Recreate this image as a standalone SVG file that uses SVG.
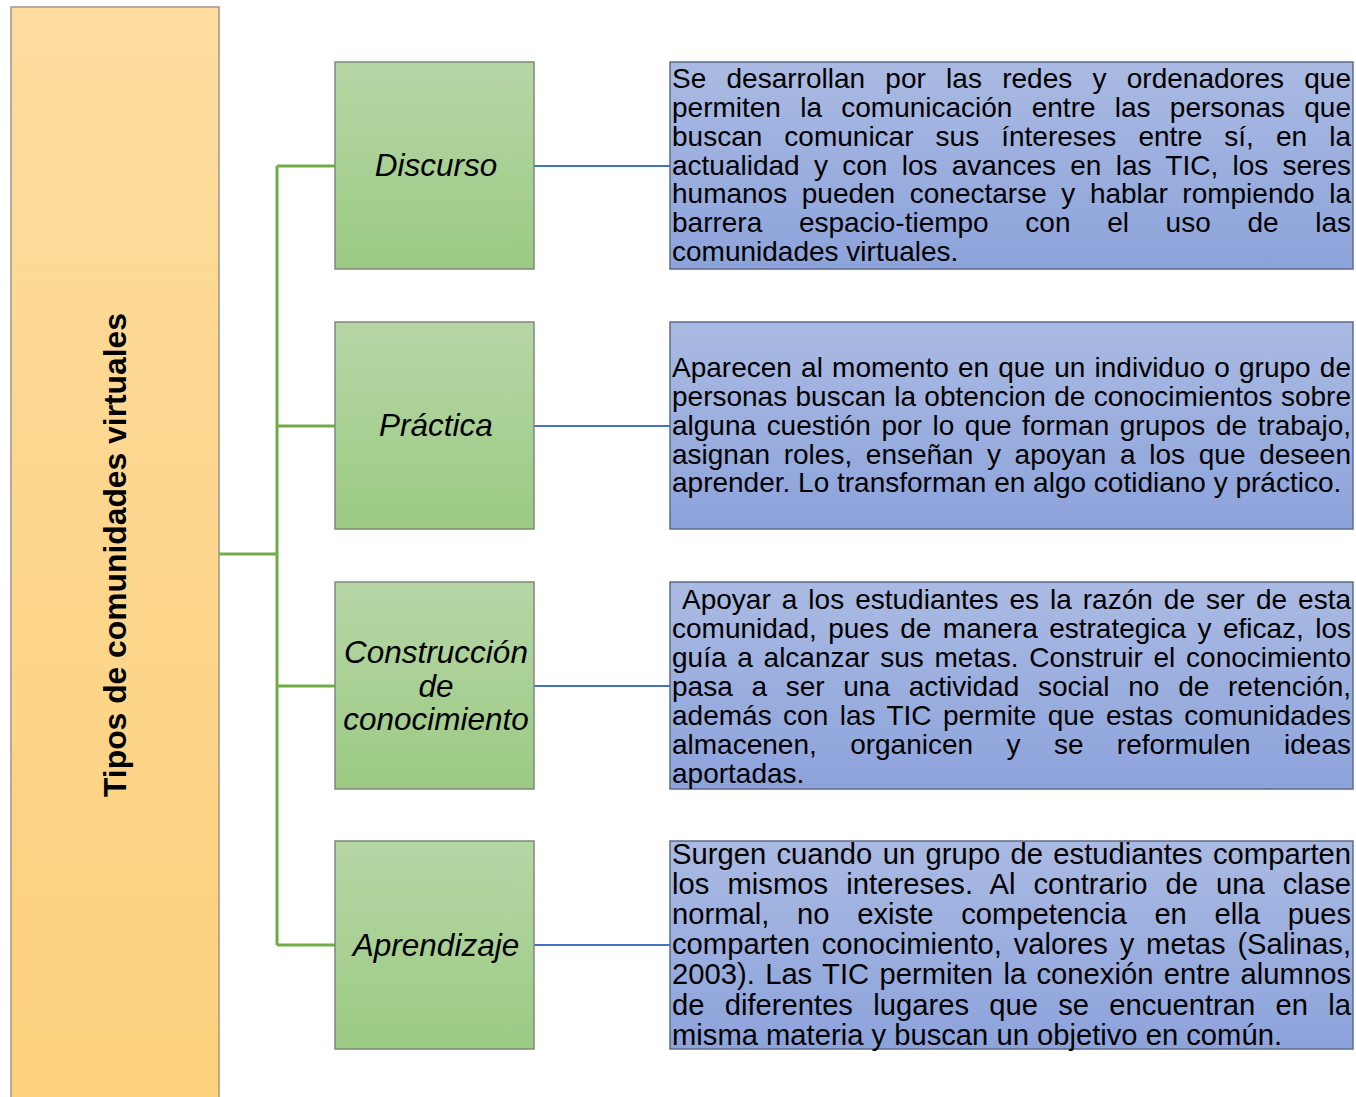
<svg xmlns="http://www.w3.org/2000/svg" width="1356" height="1097" viewBox="0 0 1356 1097">
<defs>
<linearGradient id="gOr" x1="0" y1="0" x2="0" y2="1"><stop offset="0" stop-color="#FDDC9E"/><stop offset="1" stop-color="#FDD17D"/></linearGradient>
<linearGradient id="gGr" x1="0" y1="0" x2="0" y2="1"><stop offset="0" stop-color="#B6D6A6"/><stop offset="1" stop-color="#9CCA84"/></linearGradient>
<linearGradient id="gBl" x1="0" y1="0" x2="0" y2="1"><stop offset="0" stop-color="#AABAE2"/><stop offset="1" stop-color="#8CA3DB"/></linearGradient>
</defs>
<style>
.title{font-family:"Liberation Sans",Arial,sans-serif;font-weight:bold;font-size:31.5px;fill:#000}
.lbl{font-family:"Liberation Sans",Arial,sans-serif;font-style:italic;font-size:31.5px;fill:#000;text-anchor:middle}
.body{font-family:"Liberation Sans",Arial,sans-serif;font-size:28px;fill:#000}
.b4{font-size:29.2px}
.green{fill:url(#gGr);stroke:#7E8A78;stroke-width:1.5}
.blue{fill:url(#gBl);stroke:#5E6B8C;stroke-width:1.5}
.gl{stroke:#70AD47;stroke-width:3;fill:none}
.bl{stroke:#4472C4;stroke-width:2;fill:none}
</style>
<g id="connectors">
<path class="gl" d="M219 554H277M277 166V945M277 166H335M277 426H335M277 686H335M277 945H335"/>
<path class="bl" d="M534 166H670M534 426H670M534 686H670M534 945H670"/>
</g>
<g id="root">
<rect x="11" y="7" width="208" height="1100" fill="url(#gOr)" stroke="#9E9584" stroke-width="1.5"/>
<text class="title" transform="translate(126,555) rotate(-90)" text-anchor="middle" textLength="484" lengthAdjust="spacingAndGlyphs">Tipos de comunidades virtuales</text>
</g>
<g id="n-discurso">
<rect class="green" x="335" y="62" width="199" height="207"/>
<text class="lbl" x="436" y="176">Discurso</text>
</g>
<g id="n-practica">
<rect class="green" x="335" y="322" width="199" height="207"/>
<text class="lbl" x="436" y="436">Práctica</text>
</g>
<g id="n-construccion">
<rect class="green" x="335" y="582" width="199" height="207"/>
<text class="lbl" x="436" y="663">Construcción</text>
<text class="lbl" x="436" y="697">de</text>
<text class="lbl" x="436" y="730">conocimiento</text>
</g>
<g id="n-aprendizaje">
<rect class="green" x="335" y="841" width="199" height="208"/>
<text class="lbl" x="436" y="956">Aprendizaje</text>
</g>
<g id="d-discurso">
<rect class="blue" x="670" y="62" width="683" height="207"/>
<text class="body" x="672" y="88" style="word-spacing:12.5px" textLength="679" lengthAdjust="spacing">Se desarrollan por las redes y ordenadores que</text>
<text class="body" x="672" y="117" style="word-spacing:11.5px" textLength="679" lengthAdjust="spacing">permiten la comunicación entre las personas que</text>
<text class="body" x="672" y="146" style="word-spacing:14.3px" textLength="679" lengthAdjust="spacing">buscan comunicar sus íntereses entre sí, en la</text>
<text class="body" x="672" y="175" style="word-spacing:6.5px" textLength="679" lengthAdjust="spacing">actualidad y con los avances en las TIC, los seres</text>
<text class="body" x="672" y="203" style="word-spacing:6.8px" textLength="679" lengthAdjust="spacing">humanos pueden conectarse y hablar rompiendo la</text>
<text class="body" x="672" y="232" style="word-spacing:28.9px" textLength="679" lengthAdjust="spacing">barrera espacio-tiempo con el uso de las</text>
<text class="body" x="672" y="261">comunidades virtuales.</text>
</g>
<g id="d-practica">
<rect class="blue" x="670" y="322" width="683" height="207"/>
<text class="body" x="672" y="377" style="word-spacing:1.4px" textLength="679" lengthAdjust="spacing">Aparecen al momento en que un individuo o grupo de</text>
<text class="body" x="672" y="406" style="word-spacing:0.6px" textLength="679" lengthAdjust="spacing">personas buscan la obtencion de conocimientos sobre</text>
<text class="body" x="672" y="435" style="word-spacing:2.8px" textLength="679" lengthAdjust="spacing">alguna cuestión por lo que forman grupos de trabajo,</text>
<text class="body" x="672" y="464" style="word-spacing:5.9px" textLength="679" lengthAdjust="spacing">asignan roles, enseñan y apoyan a los que deseen</text>
<text class="body" x="672" y="492">aprender. Lo transforman en algo cotidiano y práctico.</text>
</g>
<g id="d-construccion">
<rect class="blue" x="670" y="582" width="683" height="207"/>
<text class="body" x="682" y="609" style="word-spacing:3.2px" textLength="669" lengthAdjust="spacing">Apoyar a los estudiantes es la razón de ser de esta</text>
<text class="body" x="672" y="638" style="word-spacing:3.6px" textLength="679" lengthAdjust="spacing">comunidad, pues de manera estrategica y eficaz, los</text>
<text class="body" x="672" y="667" style="word-spacing:3px" textLength="679" lengthAdjust="spacing">guía a alcanzar sus metas. Construir el conocimiento</text>
<text class="body" x="672" y="696" style="word-spacing:10.9px" textLength="679" lengthAdjust="spacing">pasa a ser una actividad social no de retención,</text>
<text class="body" x="672" y="725" style="word-spacing:3.6px" textLength="679" lengthAdjust="spacing">además con las TIC permite que estas comunidades</text>
<text class="body" x="672" y="754" style="word-spacing:25.6px" textLength="679" lengthAdjust="spacing">almacenen, organicen y se reformulen ideas</text>
<text class="body" x="672" y="783">aportadas.</text>
</g>
<g id="d-aprendizaje">
<rect class="blue" x="670" y="841" width="683" height="208"/>
<text class="body b4" x="672" y="864" style="word-spacing:2.2px" textLength="679" lengthAdjust="spacing">Surgen cuando un grupo de estudiantes comparten</text>
<text class="body b4" x="672" y="894" style="word-spacing:9.8px" textLength="679" lengthAdjust="spacing">los mismos intereses. Al contrario de una clase</text>
<text class="body b4" x="672" y="924" style="word-spacing:19.6px" textLength="679" lengthAdjust="spacing">normal, no existe competencia en ella pues</text>
<text class="body b4" x="672" y="954" style="word-spacing:3.7px" textLength="679" lengthAdjust="spacing">comparten conocimiento, valores y metas (Salinas,</text>
<text class="body b4" x="672" y="984" style="word-spacing:2.2px" textLength="679" lengthAdjust="spacing">2003). Las TIC permiten la conexión entre alumnos</text>
<text class="body b4" x="672" y="1015" style="word-spacing:12.1px" textLength="679" lengthAdjust="spacing">de diferentes lugares que se encuentran en la</text>
<text class="body b4" x="672" y="1045">misma materia y buscan un objetivo en común.</text>
</g>
</svg>
